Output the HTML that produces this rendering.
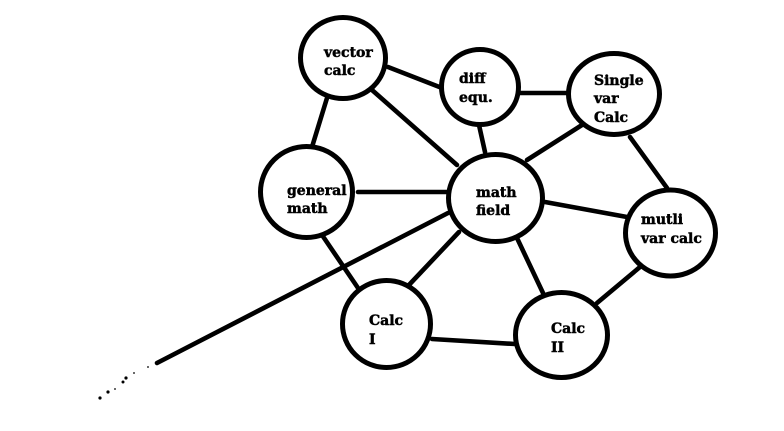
<!DOCTYPE html>
<html>
<head>
<meta charset="utf-8">
<style>
  html, body { margin: 0; padding: 0; background: #fff; }
  body { width: 784px; height: 431px; overflow: hidden; }
  svg { display: block; }
  text { font-family: "DejaVu Serif", "Liberation Serif", serif; font-weight: bold; font-size: 14px; fill: #000; stroke: #000; stroke-width: 0.5; }
</style>
</head>
<body>
<svg width="784" height="431" viewBox="0 0 784 431" xmlns="http://www.w3.org/2000/svg">
  <g stroke="#000" stroke-width="4.6" stroke-linecap="round" fill="none">
    <line x1="388" y1="67" x2="442" y2="88"/>
    <line x1="327" y1="98" x2="312" y2="147"/>
    <line x1="372" y1="90" x2="457" y2="165"/>
    <line x1="479" y1="125" x2="485" y2="152"/>
    <line x1="520" y1="93" x2="567" y2="93"/>
    <line x1="527" y1="160" x2="582" y2="125"/>
    <line x1="630" y1="137" x2="667" y2="188"/>
    <line x1="358" y1="192" x2="446" y2="192"/>
    <line x1="545" y1="202" x2="627" y2="217"/>
    <line x1="157" y1="363" x2="448" y2="213"/>
    <line x1="459" y1="232" x2="408" y2="286"/>
    <line x1="517" y1="238" x2="543" y2="293"/>
    <line x1="320" y1="232" x2="358" y2="288"/>
    <line x1="432" y1="339" x2="515" y2="344"/>
    <line x1="640" y1="267" x2="597" y2="303"/>
  </g>
  <circle cx="320" cy="233" r="3.2" fill="#000"/>
  <g fill="#000">
    <circle cx="148" cy="367" r="0.9"/>
    <circle cx="134" cy="373" r="0.9"/>
    <circle cx="126" cy="378" r="1.6"/>
    <circle cx="123" cy="382" r="1.5"/>
    <circle cx="115" cy="389" r="0.9"/>
    <circle cx="108" cy="392" r="1.6"/>
    <circle cx="100" cy="398" r="1.6"/>
  </g>
  <g stroke="#000" stroke-width="5" fill="#fff">
    <ellipse cx="343" cy="58" rx="42.5" ry="40.5"/>
    <ellipse cx="480" cy="87" rx="38.5" ry="37.5"/>
    <ellipse cx="614" cy="94" rx="45.5" ry="40.5"/>
    <ellipse cx="306.5" cy="192" rx="46" ry="45.5"/>
    <ellipse cx="495.5" cy="198" rx="47" ry="43.5"/>
    <ellipse cx="670.5" cy="233" rx="45" ry="43"/>
    <ellipse cx="386.5" cy="324" rx="44" ry="43.5"/>
    <ellipse cx="561.5" cy="335" rx="46" ry="42.5"/>
  </g>
  <text x="324" y="57">vector</text>
  <text x="324" y="75">calc</text>
  <text x="459" y="83">diff</text>
  <text x="459" y="102">equ.</text>
  <text x="594" y="85">Single</text>
  <text x="594" y="103">var</text>
  <text x="594" y="122">Calc</text>
  <text x="287" y="195">general</text>
  <text x="287" y="213">math</text>
  <text x="476" y="197">math</text>
  <text x="476" y="215">field</text>
  <text x="641" y="224">mutli</text>
  <text x="641" y="243">var calc</text>
  <text x="369" y="325">Calc</text>
  <text x="369" y="344">I</text>
  <text x="551" y="333">Calc</text>
  <text x="551" y="352">II</text>
</svg>
</body>
</html>
